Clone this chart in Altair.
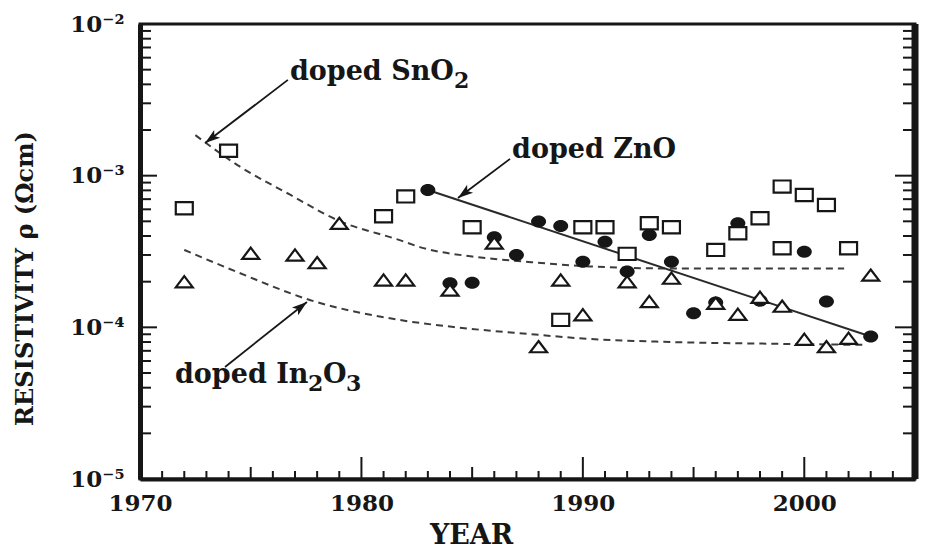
import math

import altair as alt
import pandas as pd

# ---------------------------------------------------------------------------
# Resistivity of doped transparent conducting oxides by year of report
# ---------------------------------------------------------------------------

# doped SnO2 (open squares)
sno2_years = [1972, 1974, 1981, 1982, 1985, 1989, 1990, 1991, 1992, 1993,
              1994, 1996, 1997, 1998, 1999, 1999, 2000, 2001, 2002]
sno2_rho = [6.1e-4, 1.46e-3, 5.4e-4, 7.3e-4, 4.57e-4, 1.12e-4, 4.57e-4, 4.57e-4,
            3.05e-4, 4.85e-4, 4.57e-4, 3.24e-4, 4.17e-4, 5.24e-4, 8.47e-4,
            3.32e-4, 7.46e-4, 6.41e-4, 3.32e-4]

# doped In2O3 (open triangles)
in2o3_years = [1972, 1975, 1977, 1978, 1979, 1981, 1982, 1984, 1986, 1988,
               1989, 1990, 1992, 1993, 1994, 1996, 1997, 1998, 1999, 2000,
               2001, 2002, 2003]
in2o3_rho = [2.0e-4, 3.08e-4, 3.0e-4, 2.67e-4, 4.85e-4, 2.05e-4, 2.05e-4,
             1.76e-4, 3.6e-4, 7.46e-5, 2.05e-4, 1.21e-4, 2.0e-4, 1.48e-4,
             2.11e-4, 1.44e-4, 1.22e-4, 1.58e-4, 1.38e-4, 8.35e-5, 7.46e-5,
             8.47e-5, 2.21e-4]

# doped ZnO (filled circles)
zno_years = [1983, 1984, 1985, 1986, 1987, 1988, 1989, 1990, 1991, 1992,
             1993, 1994, 1995, 1996, 1997, 1998, 2000, 2001, 2003]
zno_rho = [8.05e-4, 1.95e-4, 1.97e-4, 3.93e-4, 3.0e-4, 4.98e-4, 4.66e-4,
           2.71e-4, 3.67e-4, 2.33e-4, 4.06e-4, 2.71e-4, 1.24e-4, 1.46e-4,
           4.85e-4, 1.5e-4, 3.15e-4, 1.48e-4, 8.69e-5]

# guide curves (dashed) and the ZnO trend (solid)
sno2_trend_years = [1972.5, 1974.5, 1976.8, 1978.9, 1981.7, 1982.8, 1985.0,
                    1987.3, 1990.3, 1994.5, 2001.8]
sno2_trend_rho = [1.85e-3, 1.15e-3, 7.46e-4, 5.1e-4, 3.77e-4, 3.33e-4, 2.93e-4,
                  2.72e-4, 2.52e-4, 2.44e-4, 2.44e-4]
in2o3_trend_years = [1972.0, 1974.5, 1977.7, 1981.7, 1984.3, 1987.6, 1990.3,
                     1993.3, 1999.0, 2002.8]
in2o3_trend_rho = [3.24e-4, 2.28e-4, 1.51e-4, 1.12e-4, 1.0e-4, 9.03e-5,
                   8.38e-5, 8.05e-5, 7.78e-5, 7.66e-5]
zno_trend_years = [1983, 2003]
zno_trend_rho = [8.05e-4, 8.7e-5]

# annotation arrows: tail -> head
arrow_tail_years = [1976.68, 1986.71, 1973.84]
arrow_tail_rho = [4.28e-3, 1.29e-3, 5.48e-5]
arrow_head_years = [1972.94, 1984.36, 1977.54]
arrow_head_rho = [1.64e-3, 7.13e-4, 1.47e-4]

# annotation text: normal pieces and lowered subscript pieces
label_texts = ["doped SnO", "doped ZnO", "doped In", "O"]
label_years = [1976.77, 1986.80, 1971.58, 1978.26]
label_rho = [4.28e-3, 1.307e-3, 4.30e-5, 4.30e-5]
sub_texts = ["2", "2", "3"]
sub_years = [1984.18, 1977.59, 1979.30]
sub_rho = [3.78e-3, 3.80e-5, 3.80e-5]

# axes
x_label_years = [1970, 1980, 1990, 2000]
x_major_ticks = [1980, 1990, 2000]
x_mid_ticks = [1975, 1985, 1995]
x_minor_ticks = [y for y in range(1971, 2005) if y % 5 != 0]
y_label_values = [1e-5, 1e-4, 1e-3, 1e-2]
y_major_ticks = [1e-4, 1e-3]
y_minor_ticks = [m * 10.0 ** e for e in (-5, -4, -3) for m in range(2, 10)]

FONT = "DejaVu Serif"
INK = "#161616"
W, H = 775, 455
X_DOMAIN = [1970, 2005]
Y_DOMAIN = [1e-5, 1e-2]

xscale = alt.Scale(domain=X_DOMAIN, nice=False, zero=False)
yscale = alt.Scale(type="log", domain=Y_DOMAIN, nice=False)

x_axis = alt.Axis(
    values=x_label_years, format="d", title="YEAR", ticks=False, grid=False,
    domainWidth=4, domainColor=INK, labelPadding=13, labelFlush=False,
    labelOverlap=False, titleFontSize=27, titleX=331, titleY=56,
    titleBaseline="middle", titleAlign="center",
)
y_axis = alt.Axis(
    values=y_label_values,
    labelExpr=("datum.value >= 0.005 ? '10⁻²' : datum.value >= 0.0005 ? '10⁻³' : "
               "datum.value >= 0.00005 ? '10⁻⁴' : '10⁻⁵'"),
    title="RESISTIVITY ρ (Ωcm)", ticks=False, grid=False, domainWidth=5,
    domainColor=INK, labelPadding=16, labelFlush=False, labelOverlap=False,
    titleFontSize=24, titleX=-115, titleY=254, titleAngle=270,
    titleBaseline="middle", titleAlign="center",
)


def X(field):
    return alt.X(field, type="quantitative", scale=xscale, axis=x_axis)


def Y(field):
    return alt.Y(field, type="quantitative", scale=yscale, axis=y_axis)


def XD(value):
    return alt.XDatum(value, type="quantitative", scale=xscale, axis=x_axis)


def YD(value):
    return alt.YDatum(value, type="quantitative", scale=yscale, axis=y_axis)


def frac_x(year):
    return (year - X_DOMAIN[0]) / (X_DOMAIN[1] - X_DOMAIN[0]) * W


def frac_y(rho):
    return (math.log10(Y_DOMAIN[1]) - math.log10(rho)) / 3.0 * H


# marker outlines (wide symbols), arrowhead with its tip at the origin
SQUARE = "M-1,-0.72 L1,-0.72 L1,0.72 L-1,0.72 Z"
TRIANGLE = "M0,-0.66 L1,0.66 L-1,0.66 Z"
ELLIPSE = ("M1,0 C1,0.4418 0.5523,0.8 0,0.8 C-0.5523,0.8 -1,0.4418 -1,0 "
           "C-1,-0.4418 -0.5523,-0.8 0,-0.8 C0.5523,-0.8 1,-0.4418 1,0 Z")
ARROW = "M0,0 L0.62,1.9 L0,1.45 L-0.62,1.9 Z"

sq_df = pd.DataFrame({"year": sno2_years, "rho": sno2_rho})
tri_df = pd.DataFrame({"year": in2o3_years, "rho": in2o3_rho})
circ_df = pd.DataFrame({"year": zno_years, "rho": zno_rho})

curves_df = pd.concat([
    pd.DataFrame({"year": sno2_trend_years, "rho": sno2_trend_rho, "series": "SnO2"}),
    pd.DataFrame({"year": in2o3_trend_years, "rho": in2o3_trend_rho, "series": "In2O3"}),
])
zno_line_df = pd.DataFrame({"year": zno_trend_years, "rho": zno_trend_rho})

angles = []
for tx, tr, hx, hr in zip(arrow_tail_years, arrow_tail_rho, arrow_head_years, arrow_head_rho):
    dx = frac_x(hx) - frac_x(tx)
    dy = frac_y(hr) - frac_y(tr)
    angles.append(math.degrees(math.atan2(dx, -dy)) % 360)
arrows_df = pd.DataFrame({
    "year": arrow_tail_years, "rho": arrow_tail_rho,
    "year2": arrow_head_years, "rho2": arrow_head_rho,
})
heads_df = pd.DataFrame({"year": arrow_head_years, "rho": arrow_head_rho, "angle": angles})

labels_df = pd.DataFrame({"year": label_years, "rho": label_rho, "text": label_texts})
subs_df = pd.DataFrame({"year": sub_years, "rho": sub_rho, "text": sub_texts})

dashed = alt.Chart(curves_df).mark_line(
    strokeDash=[7, 5], strokeWidth=2, color="#3c3c3c", interpolate="monotone"
).encode(x=X("year"), y=Y("rho"), detail="series:N")

zno_line = alt.Chart(zno_line_df).mark_line(strokeWidth=2, color="#2a2a2a").encode(
    x=X("year"), y=Y("rho")
)

shafts = alt.Chart(arrows_df).mark_rule(strokeWidth=1.8, color=INK).encode(
    x=X("year"), y=Y("rho"), x2="year2:Q", y2="rho2:Q"
)
heads = alt.Chart(heads_df).mark_point(
    shape=ARROW, filled=True, size=256, color=INK, opacity=1, strokeWidth=0
).encode(x=X("year"), y=Y("rho"), angle=alt.Angle("angle:Q", scale=None))

circles = alt.Chart(circ_df).mark_point(
    shape=ELLIPSE, filled=True, size=225, color=INK, opacity=1
).encode(x=X("year"), y=Y("rho"))

triangles = alt.Chart(tri_df).mark_point(
    shape=TRIANGLE, filled=True, fill="white", stroke=INK, strokeWidth=2.2,
    size=289, opacity=1
).encode(x=X("year"), y=Y("rho"))

squares = alt.Chart(sq_df).mark_point(
    shape=SQUARE, filled=True, fill="white", stroke=INK, strokeWidth=2.2,
    size=289, opacity=1
).encode(x=X("year"), y=Y("rho"))


def x_ticks(values, length):
    return alt.Chart(pd.DataFrame({"year": values})).mark_tick(
        orient="vertical", size=length, thickness=2, color=INK, yOffset=-length / 2, opacity=1
    ).encode(x=X("year"), y=YD(Y_DOMAIN[0]))


def y_ticks(values, length, edge, sign):
    return alt.Chart(pd.DataFrame({"rho": values})).mark_tick(
        orient="horizontal", size=length, thickness=2, color=INK,
        xOffset=sign * length / 2, opacity=1
    ).encode(y=Y("rho"), x=XD(edge))


ticks = [
    x_ticks(x_minor_ticks, 8),
    x_ticks(x_mid_ticks, 12),
    x_ticks(x_major_ticks, 22),
    y_ticks(y_minor_ticks, 11, X_DOMAIN[0], 1),
    y_ticks(y_major_ticks, 17, X_DOMAIN[0], 1),
    y_ticks(y_minor_ticks, 12, X_DOMAIN[1], -1),
    y_ticks(y_major_ticks, 20, X_DOMAIN[1], -1),
]

right_edge = alt.Chart(pd.DataFrame({"rho": [Y_DOMAIN[0]], "rho2": [Y_DOMAIN[1]]})).mark_rule(
    strokeWidth=7, color=INK
).encode(x=XD(X_DOMAIN[1]), y=Y("rho"), y2="rho2:Q")

labels = alt.Chart(labels_df).mark_text(
    align="left", baseline="alphabetic", font=FONT, fontWeight="bold",
    fontSize=27, color=INK
).encode(x=X("year"), y=Y("rho"), text="text:N")

subs = alt.Chart(subs_df).mark_text(
    align="left", baseline="alphabetic", font=FONT, fontWeight="bold",
    fontSize=22, color=INK
).encode(x=X("year"), y=Y("rho"), text="text:N")

chart = alt.layer(
    dashed, zno_line, shafts, heads, circles, triangles, squares,
    *ticks, right_edge, labels, subs,
).properties(
    width=W, height=H,
    autosize=alt.AutoSizeParams(type="none"),
    padding={"left": 140, "top": 24, "right": 13, "bottom": 72},
    background="white",
).configure_view(
    stroke=INK, strokeWidth=3
).configure_axis(
    labelFont=FONT, labelFontWeight="bold", labelFontSize=23, labelColor=INK,
    titleFont=FONT, titleFontWeight="bold", titleColor=INK,
)

chart.save("out.html", embed_options={"renderer": "svg", "actions": False})
